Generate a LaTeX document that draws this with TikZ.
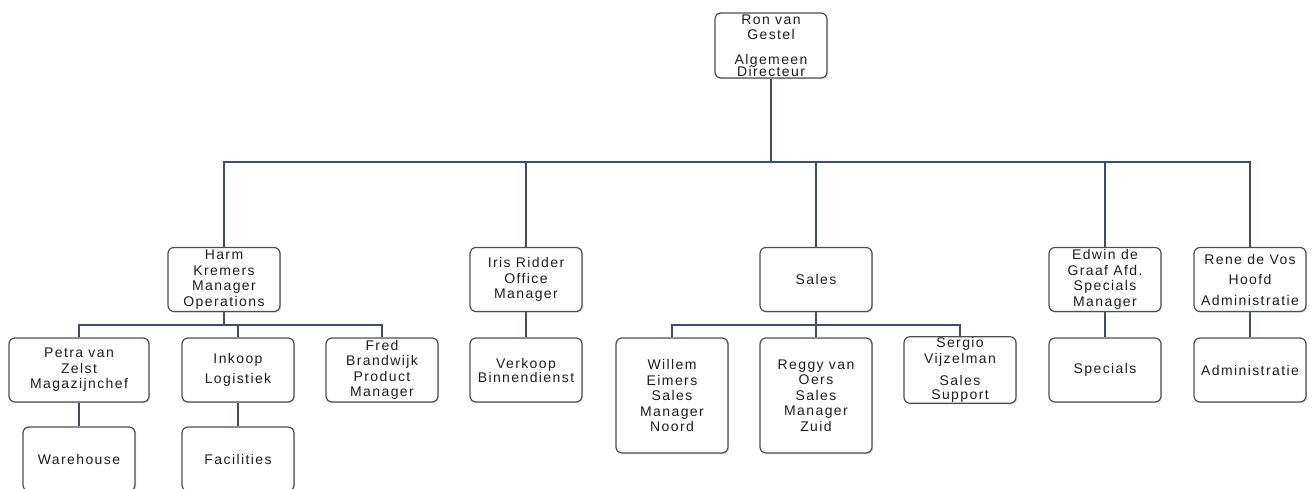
\documentclass[tikz,border=0pt]{standalone}
\usepackage{fontspec}
\setmainfont{Liberation Sans}[LetterSpace=10]
\usetikzlibrary{shadows}
\definecolor{boxline}{HTML}{4A4F57}
\definecolor{connline}{HTML}{3E4E66}
\definecolor{txt}{HTML}{1E1E1E}
\tikzset{
  box/.style={draw=boxline, line width=1.2pt, rounded corners=6pt, fill=white,
    align=center, inner sep=1pt, text=txt,
    font=\fontsize{14}{15.5}\selectfont,
    drop shadow={shadow xshift=1.2pt, shadow yshift=-1.2pt, opacity=0.25, fill=gray},
    minimum width=112pt, minimum height=64pt},
  tall/.style={minimum height=115pt},
  conn/.style={draw=connline, line width=1.3pt},
}
\begin{document}
\begin{tikzpicture}[x=1pt,y=-1pt]
\clip (0,0) rectangle (1313,488);
\fill[white] (0,0) rectangle (1313,488);
% level 0
\node[box, minimum height=65pt] (ron) at (771,45.5) {Ron van\\Gestel\\[9pt]Algemeen\\[-3.5pt]Directeur};
% level 1
\node[box] (harm) at (224,279.5) {Harm\\Kremers\\Manager\\Operations};
\node[box] (iris) at (526,279.5) {Iris Ridder\\Office\\Manager};
\node[box] (sales) at (816,279.5) {Sales};
\node[box] (edwin) at (1105,279.5) {Edwin de\\Graaf Afd.\\Specials\\Manager};
\node[box] (rene) at (1250,279.5) {Rene de Vos\\[5pt]Hoofd\\[5pt]Administratie};
% level 2
\node[box, minimum width=140pt] (petra) at (79,370) {Petra van\\Zelst\\Magazijnchef};
\node[box] (inkoop) at (238,370) {Inkoop\\[5pt]Logistiek};
\node[box] (fred) at (382,370) {Fred\\Brandwijk\\Product\\Manager};
\node[box] (verkoop) at (526,370) {Verkoop\\[-1.5pt]Binnendienst};
\node[box, tall] (willem) at (672,395.5) {Willem\\Eimers\\Sales\\Manager\\Noord};
\node[box, tall] (reggy) at (816,395.5) {Reggy van\\Oers\\Sales\\Manager\\Zuid};
\node[box] (sergio) at (960,370) {Sergio\\Vijzelman\\[6.5pt]Sales\\[-1.5pt]Support};
\node[box] (specials) at (1105,370) {Specials};
\node[box] (admin) at (1250,370) {Administratie};
% level 3
\node[box] (warehouse) at (79,459) {Warehouse};
\node[box] (facilities) at (238,459) {Facilities};
% connectors
\coordinate (bar) at (771,162);
\draw[conn] (ron.south) -- (bar);
\draw[conn] (harm.north) |- (bar) -| (rene.north);
\draw[conn] (iris.north) -- (iris.north |- bar);
\draw[conn] (sales.north) -- (sales.north |- bar);
\draw[conn] (edwin.north) -- (edwin.north |- bar);
\coordinate (hbar) at (224,325);
\draw[conn] (harm.south) -- (hbar);
\draw[conn] (petra.north) |- (hbar) -| (fred.north);
\draw[conn] (inkoop.north) -- (inkoop.north |- hbar);
\coordinate (sbar) at (816,325);
\draw[conn] (sales.south) -- (sbar);
\draw[conn] (willem.north) |- (sbar) -| (sergio.north);
\draw[conn] (reggy.north) -- (reggy.north |- sbar);
\draw[conn] (iris.south) -- (verkoop.north);
\draw[conn] (edwin.south) -- (specials.north);
\draw[conn] (rene.south) -- (admin.north);
\draw[conn] (petra.south) -- (warehouse.north);
\draw[conn] (inkoop.south) -- (facilities.north);
\end{tikzpicture}
\end{document}
